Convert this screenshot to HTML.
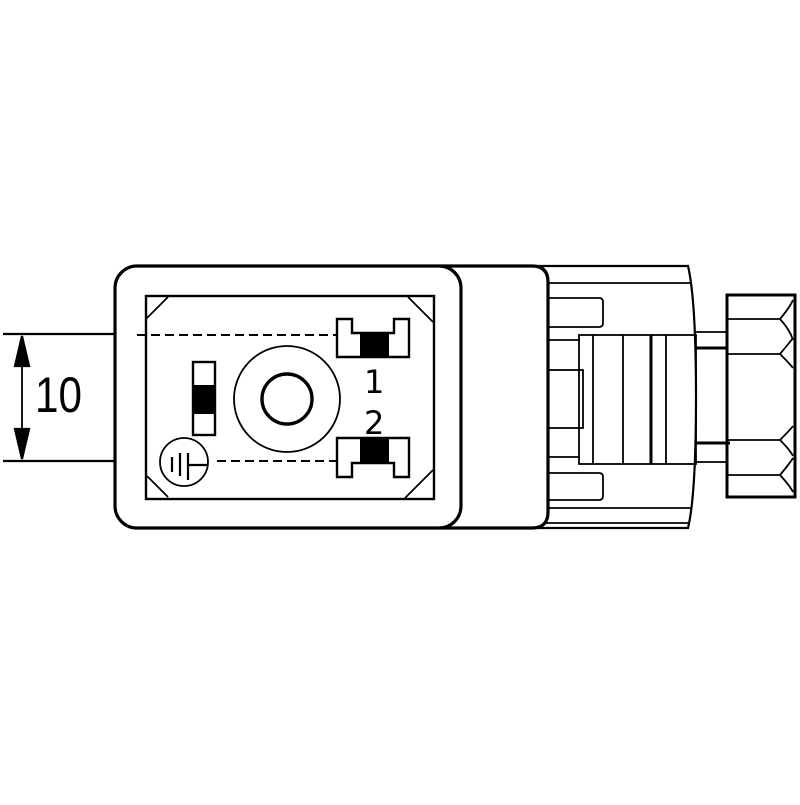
<!DOCTYPE html>
<html><head><style>html,body{margin:0;padding:0;background:#fff}</style></head>
<body>
<svg width="800" height="800" viewBox="0 0 800 800" xmlns="http://www.w3.org/2000/svg" fill="none" stroke="#000" stroke-width="2.2">
<!-- dimension -->
<line x1="3" y1="334" x2="132" y2="334"/>
<line x1="3" y1="461" x2="132" y2="461"/>
<line x1="22" y1="336" x2="22" y2="459" stroke-width="1.8"/>
<polygon points="22,336 15,366 29,366" fill="#000"/>
<polygon points="22,459 15,429 29,429" fill="#000"/>
<text x="35" y="412" font-family="Liberation Sans, sans-serif" font-size="50" fill="#000" stroke="none" textLength="47" lengthAdjust="spacingAndGlyphs">10</text>

<!-- rear part -->
<path d="M520 266 L688 266 Q696 300 696 397 Q696 495 688 528 L520 528" stroke-width="2.2"/>
<line x1="548" y1="283" x2="690" y2="283" stroke-width="1.8"/>
<line x1="545" y1="508" x2="692" y2="508" stroke-width="1.8"/>
<line x1="540" y1="523" x2="690" y2="523" stroke-width="1.8"/>
<path d="M548 298 L599 298 Q603 298 603 302 L603 323 Q603 327 599 327 L548 327" stroke-width="1.8"/>
<path d="M548 473 L599 473 Q603 473 603 477 L603 496 Q603 500 599 500 L548 500" stroke-width="1.8"/>
<line x1="548" y1="340" x2="580" y2="340" stroke-width="1.8"/>
<rect x="548" y="370" width="35" height="58" stroke-width="1.8"/>
<line x1="548" y1="457" x2="580" y2="457" stroke-width="1.8"/>
<rect x="579" y="335" width="117" height="129" stroke-width="1.8"/>
<line x1="593" y1="335" x2="593" y2="464" stroke-width="1.8"/>
<line x1="623" y1="335" x2="623" y2="464" stroke-width="1.8"/>
<line x1="651" y1="335" x2="651" y2="464" stroke-width="3"/>
<line x1="666" y1="335" x2="666" y2="464" stroke-width="1.8"/>
<!-- shaft -->
<line x1="696" y1="332" x2="728" y2="332" stroke-width="1.8"/>
<line x1="696" y1="348" x2="728" y2="348" stroke-width="3"/>
<line x1="696" y1="443" x2="730" y2="443" stroke-width="3"/>
<line x1="696" y1="462" x2="728" y2="462" stroke-width="1.8"/>
<!-- nut -->
<rect x="727" y="295" width="68" height="202" stroke-width="3"/>
<path d="M727 319 L780 319 Q790 307 793 300 M780 319 Q790 330 793 340" stroke-width="1.8"/>
<path d="M727 354 L780 354 Q790 342 793 338 M780 354 Q790 364 793 368" stroke-width="1.8"/>
<path d="M727 440 L780 440 Q790 430 793 426 M780 440 Q790 450 793 456" stroke-width="1.8"/>
<path d="M727 475 L780 475 Q790 463 793 458 M780 475 Q790 486 793 492" stroke-width="1.8"/>

<!-- middle body -->
<path d="M440 266 L532 266 Q548 266 548 282 L548 512 Q548 528 532 528 L440 528" fill="#fff" stroke-width="3.2"/>
<!-- main box -->
<rect x="115" y="266" width="346" height="262" rx="22" fill="#fff" stroke-width="3.2"/>
<rect x="146" y="296" width="288" height="203" stroke-width="2.4"/>
<line x1="146" y1="319" x2="168" y2="297" stroke-width="1.8"/>
<line x1="408" y1="297" x2="433" y2="322" stroke-width="1.8"/>
<line x1="147" y1="476" x2="168" y2="497" stroke-width="1.8"/>
<line x1="405" y1="498" x2="433" y2="470" stroke-width="1.8"/>
<!-- dashed -->
<line x1="137" y1="335" x2="337" y2="335" stroke-dasharray="9,5" stroke-width="2"/>
<line x1="217" y1="461" x2="337" y2="461" stroke-dasharray="9,5" stroke-width="2"/>
<!-- contact 1 -->
<path d="M337 319 L352 319 L352 333 L394 333 L394 319 L409 319 L409 357 L337 357 Z" stroke-width="2.4"/>
<rect x="360" y="332" width="29" height="25" fill="#000" stroke="none"/>
<!-- contact 2 -->
<path d="M337 477 L352 477 L352 463 L394 463 L394 477 L409 477 L409 438 L337 438 Z" stroke-width="2.4"/>
<rect x="360" y="439" width="29" height="24" fill="#000" stroke="none"/>
<text x="364" y="393" font-family="DejaVu Sans, sans-serif" font-size="32" fill="#000" stroke="none">1</text>
<text x="364" y="434" font-family="DejaVu Sans, sans-serif" font-size="32" fill="#000" stroke="none">2</text>
<!-- left small rect -->
<rect x="193" y="362" width="22" height="73" stroke-width="2.4"/>
<rect x="193" y="385" width="22" height="29" fill="#000" stroke="none"/>
<!-- ring -->
<circle cx="287" cy="399" r="53" stroke-width="1.8"/>
<circle cx="287" cy="399" r="25" stroke-width="3.4"/>
<!-- ground -->
<circle cx="184" cy="462" r="24" stroke-width="1.8"/>
<line x1="172" y1="457" x2="172" y2="472" stroke-width="2.2"/>
<line x1="180" y1="453" x2="180" y2="476" stroke-width="2.2"/>
<line x1="188" y1="453" x2="188" y2="480" stroke-width="2.2"/>
<line x1="188" y1="465" x2="207" y2="465" stroke-width="2.2"/>
</svg>
</body></html>
